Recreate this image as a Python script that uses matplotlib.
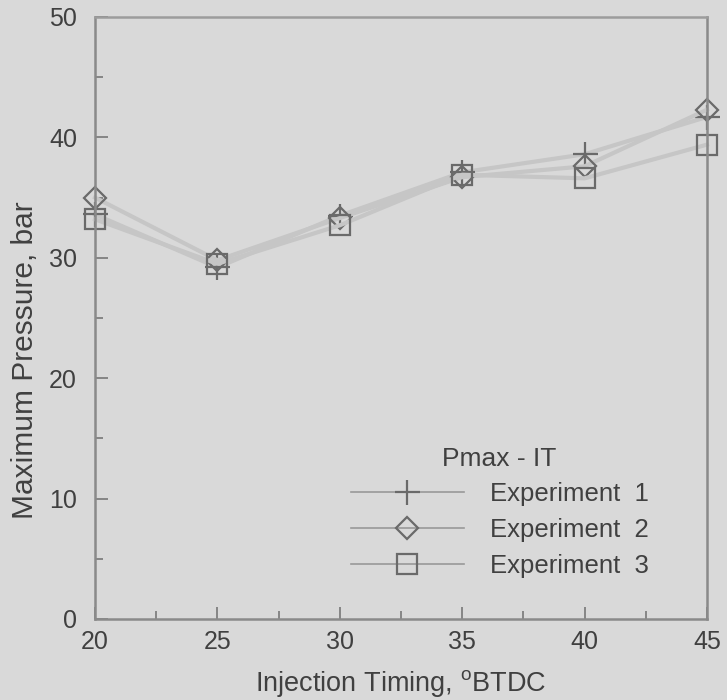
import matplotlib
matplotlib.use("Agg")
import matplotlib.pyplot as plt
from matplotlib.ticker import MultipleLocator

plt.rcParams['font.family'] = ['Liberation Sans', 'DejaVu Sans']

timing = [20, 25, 30, 35, 40, 45]
exp1 = [33.6, 29.2, 33.5, 37.1, 38.6, 41.7]
exp2 = [35.0, 29.8, 33.3, 36.7, 37.6, 42.3]
exp3 = [33.2, 29.5, 32.7, 36.9, 36.6, 39.4]
labels = ["Experiment  1", "Experiment  2", "Experiment  3"]

bg = "#d9d9d9"
txt = "#404040"
fig = plt.figure(figsize=(7.27, 7.0), dpi=100, facecolor=bg)
ax = fig.add_axes([95/727, 1-619/700, (707-95)/727, (619-17)/700])
ax.set_facecolor(bg)

line_c = "#c6c6c6"
mk_c = "#6a6a6a"
ax.plot(timing, exp1, color=line_c, lw=3, marker='+', ms=18, mew=1.6,
        mec=mk_c, label=labels[0], clip_on=False)
ax.plot(timing, exp2, color=line_c, lw=3, marker='D', ms=11, mew=1.6,
        mec=mk_c, mfc='none', label=labels[1], clip_on=False)
ax.plot(timing, exp3, color=line_c, lw=3, marker='s', ms=15, mew=1.6,
        mec=mk_c, mfc='none', label=labels[2], clip_on=False)

ax.set_xlim(20, 45)
ax.set_ylim(0, 50)
ax.xaxis.set_major_locator(MultipleLocator(5))
ax.xaxis.set_minor_locator(MultipleLocator(2.5))
ax.yaxis.set_major_locator(MultipleLocator(10))
ax.yaxis.set_minor_locator(MultipleLocator(5))
ax.tick_params(which='both', direction='in', color='#777777', width=1.2,
               labelsize=18, labelcolor=txt)
ax.tick_params(which='major', length=9)
ax.tick_params(which='minor', length=6)
ax.tick_params(axis='x', pad=8)
ax.tick_params(axis='y', pad=13)

for s in ax.spines.values():
    s.set_color('#8a8a8a')
    s.set_linewidth(1.8)
ax.spines['top'].set_color('#9c9c9c')

ax.set_xlabel("Injection Timing, $^{\\mathregular{o}}$BTDC", fontsize=19.5,
              color=txt, labelpad=10)
ax.set_ylabel("Maximum Pressure, bar", fontsize=21.5, color=txt)
ax.yaxis.set_label_coords(-0.092, 0.43)

leg = ax.legend(title="Pmax - IT", loc='upper left',
                bbox_to_anchor=(338/727, 1-434/700), bbox_transform=fig.transFigure,
                borderpad=0, frameon=False, fontsize=18.5, title_fontsize=19,
                handlelength=4.4, labelspacing=0.45, handletextpad=1.0,
                labelcolor=txt)
leg.get_title().set_color(txt)
for h in leg.legend_handles:
    h.set_color('#999999')
    h.set_linewidth(1.2)
    h.set_markeredgecolor(mk_c)

fig.savefig("out.png", dpi=100, facecolor=bg)
